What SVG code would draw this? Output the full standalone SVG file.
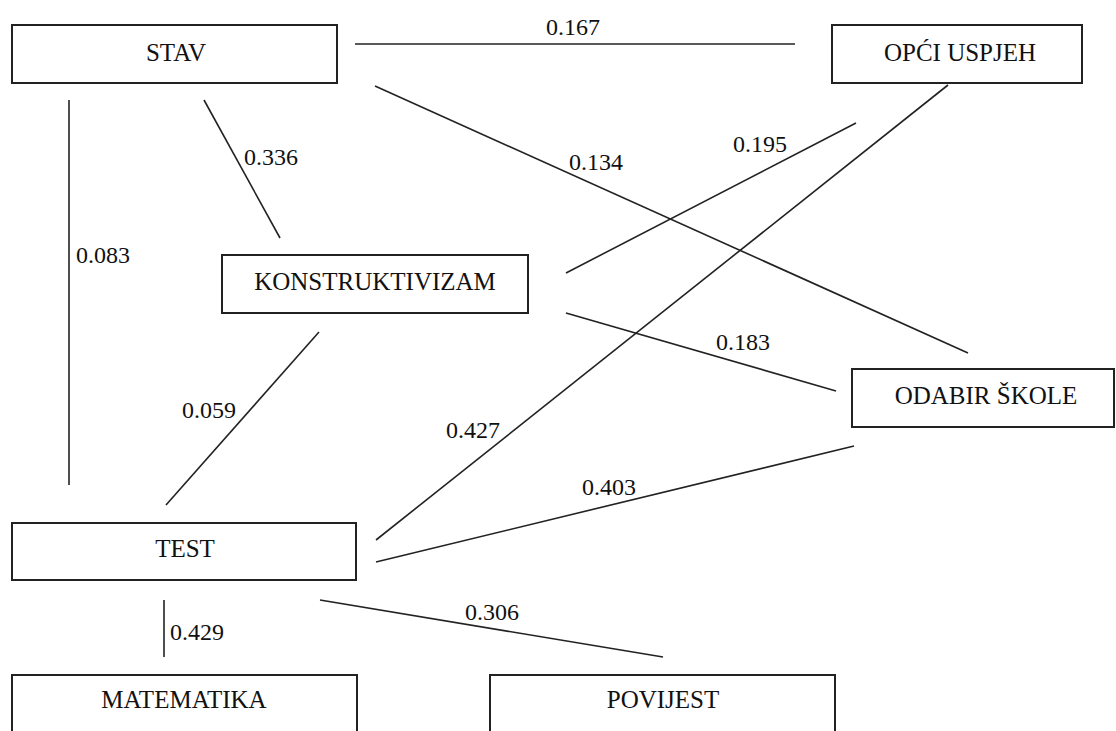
<svg xmlns="http://www.w3.org/2000/svg" width="1116" height="731" viewBox="0 0 1116 731">
<style>
.box{fill:#fff;stroke:#222;stroke-width:2}
text{font-family:'Liberation Serif','Times New Roman',serif;fill:#111}
.t{font-size:25px;text-anchor:middle}
.l{font-size:24px}
.c line{stroke:#222;stroke-width:1.6}
</style>
<rect width="1116" height="731" fill="#fff"/>
<g class="c" id="connectors">
<line x1="355" y1="44" x2="795" y2="44"/>
<line x1="375" y1="86" x2="968" y2="353"/>
<line x1="204" y1="100" x2="280" y2="238"/>
<line x1="69" y1="100" x2="69" y2="485"/>
<line x1="856" y1="123" x2="566" y2="273"/>
<line x1="948" y1="85" x2="376" y2="540"/>
<line x1="566" y1="313" x2="836" y2="391"/>
<line x1="319" y1="332" x2="166" y2="505"/>
<line x1="854" y1="446" x2="376" y2="562"/>
<line x1="164" y1="600" x2="164" y2="657"/>
<line x1="320" y1="600" x2="663" y2="657"/>
</g>
<g id="labels">
<text class="l" x="546" y="35">0.167</text>
<text class="l" x="569" y="170">0.134</text>
<text class="l" x="244" y="165">0.336</text>
<text class="l" x="76" y="263">0.083</text>
<text class="l" x="733" y="152">0.195</text>
<text class="l" x="446" y="438">0.427</text>
<text class="l" x="716" y="350">0.183</text>
<text class="l" x="182" y="418">0.059</text>
<text class="l" x="582" y="495">0.403</text>
<text class="l" x="170" y="640">0.429</text>
<text class="l" x="465" y="620">0.306</text>
</g>
<g id="stav"><rect class="box" x="12" y="25" width="325" height="58"/><text class="t" x="176" y="61">STAV</text></g>
<g id="opci"><rect class="box" x="832" y="25" width="250" height="58"/><text class="t" x="960" y="61">OPĆI USPJEH</text></g>
<g id="konstruktivizam"><rect class="box" x="222" y="255" width="306" height="58"/><text class="t" x="375" y="290">KONSTRUKTIVIZAM</text></g>
<g id="odabir"><rect class="box" x="852" y="369" width="262" height="58"/><text class="t" x="986" y="404">ODABIR ŠKOLE</text></g>
<g id="test"><rect class="box" x="12" y="523" width="344" height="57"/><text class="t" x="185" y="557">TEST</text></g>
<g id="matematika"><rect class="box" x="12" y="675" width="345" height="70"/><text class="t" x="184" y="708">MATEMATIKA</text></g>
<g id="povijest"><rect class="box" x="490" y="675" width="345" height="70"/><text class="t" x="663" y="708">POVIJEST</text></g>
</svg>
